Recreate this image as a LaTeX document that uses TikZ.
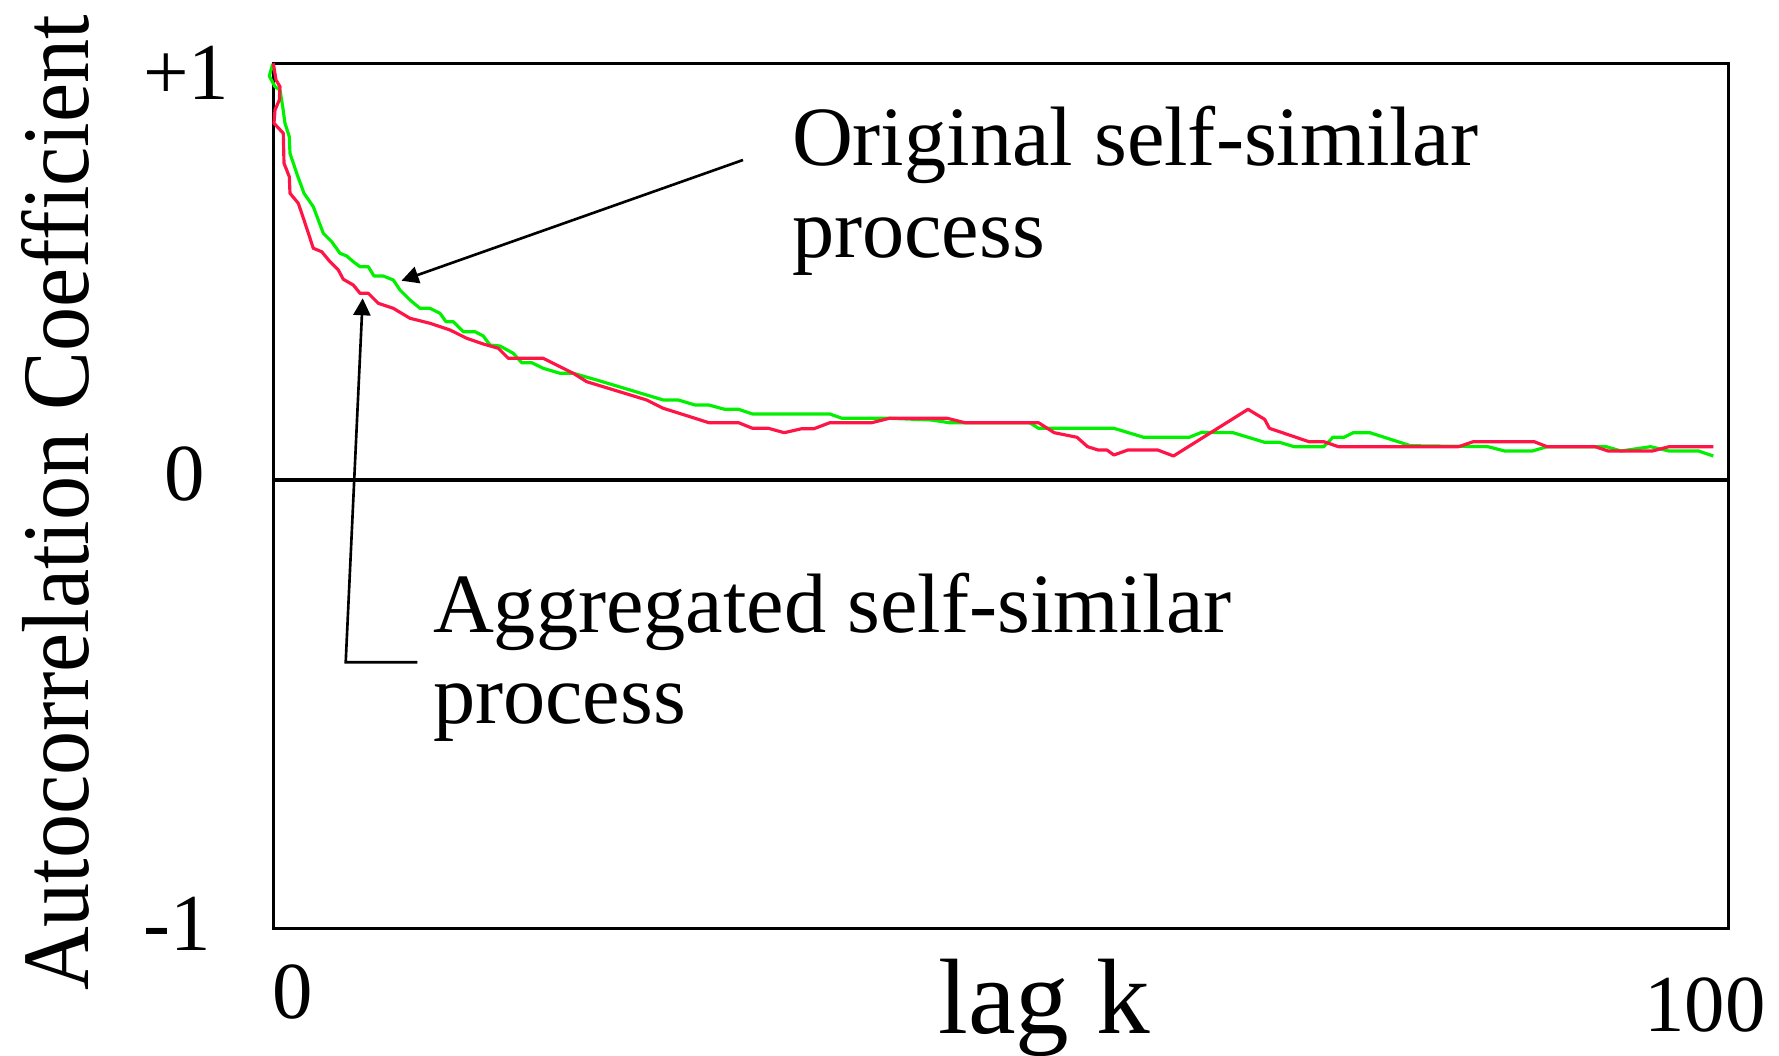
\documentclass[tikz,border=0pt]{standalone}
\usepackage{fontspec}
\setmainfont{Liberation Serif}
\usetikzlibrary{arrows.meta}
\definecolor{curvegreen}{RGB}{0,240,0}
\definecolor{curvered}{RGB}{255,20,70}
\tikzset{
  frame/.style={line width=1pt, black},
  curveline/.style={line width=0.9pt, line join=round},
  pointer/.style={line width=0.75pt, black, -{Triangle[length=1.7mm,width=1.7mm]}},
  lbl/.style={inner sep=0pt, outer sep=0pt, font=\fontsize{24}{26}\selectfont},
  ticklbl/.style={inner sep=0pt, outer sep=0pt, font=\fontsize{23}{26}\selectfont, anchor=base},
}
\begin{document}
\begin{tikzpicture}[x=0.1mm,y=-0.1mm]
\useasboundingbox (0,0) rectangle (1779,1056);
% frame
\coordinate (tl) at (273.5,63.5);
\coordinate (br) at (1728.5,928.5);
\draw[frame] (tl) rectangle (br);
\coordinate (z0) at (273.5,480);
\coordinate (z1) at (1728.5,480);
\draw[frame] (z0) -- (z1);
% green curve (original)
\draw[curveline, curvegreen] plot coordinates {
(272.7,64) (269.3,76) (275,86.7) (280,90) (282.7,106.7) (285,123.3) (289.3,136.7) (290,153.3) (296.7,173.3) (304,193.3) (313.3,206.7) (323.3,233.3) (331.7,241.7) (340,253.3) (346.7,256) (353.3,261.7) (360,266.7) (368.3,266.7) (374,276) (383.3,276) (393.3,280) (400,290) (410,300) (420,308.3) (430,308.3) (440,313.3) (446,321.7) (453.3,321.7) (463.3,331.7) (475,331.7) (483.3,336) (490,345) (500,346) (513.3,353.3) (521.7,362.7) (531.7,362.7) (543.3,368.3) (560,373.3) (573.3,373.3) (596.7,380) (630,390) (663.3,400) (678.3,400) (695,405) (708.8,405) (724.6,409.3) (738.6,409.3) (752.6,414) (829.8,414) (842,418.3) (889.4,418.3) (931.5,420) (949,422.7) (1029.7,422.7) (1038.5,428.3) (1113.9,428.3) (1143.7,437.3) (1189.3,437.3) (1201.6,432.3) (1233.1,432.7) (1264.6,442.3) (1279.4,442.3) (1294.2,446.7) (1323.7,446.7) (1332.9,437.3) (1344,437.3) (1353.2,432.7) (1369.9,432.7) (1410.5,445.7) (1488,446.7) (1504.7,451) (1532.3,451) (1547.1,446.7) (1606.2,446.7) (1621,451) (1650.5,446.7) (1669,451) (1698.5,451) (1713.3,456)
};
% red curve (aggregated)
\draw[curveline, curvered] plot coordinates {
(273.3,63.3) (276,80) (280,86.7) (279.3,100) (275,110) (274,123.3) (283.3,133.3) (284,163.3) (289.3,176.7) (290,193.3) (298.3,203.3) (304,220) (313.3,248.3) (321.7,251.7) (330,261.7) (338.3,270) (343.3,279.3) (353.3,285) (360,293.3) (368.3,293.3) (378.3,303.3) (393.3,308.3) (410,318.3) (430,323.3) (450,330) (466.7,338.3) (483.3,344) (498.3,348.3) (508.3,358.3) (543.3,358.3) (556.7,365) (573.3,373.3) (586.7,381.7) (646.7,400) (663.3,408.3) (690,416.7) (708.8,422.7) (738.6,422.7) (752.6,428.3) (768.4,428.3) (784.2,432.7) (801.7,428.7) (814,428.7) (829.8,422.7) (871.9,422.7) (889.4,418.3) (947.3,418.3) (964.8,422.7) (1038.5,422.7) (1054.2,432.7) (1077,437.3) (1087.6,446.7) (1098.1,450) (1106.9,450) (1113.9,455) (1127.9,450) (1157.7,450) (1173.5,456) (1248,409.3) (1264.6,419.3) (1269.4,428.3) (1308.9,441.7) (1323.7,441.7) (1338.5,446.7) (1458.5,446.7) (1473.3,441.7) (1534.2,441.7) (1547.1,446.7) (1595.1,446.7) (1608,451) (1652.4,451) (1669,446.7) (1713.3,446.7)
};
% axis labels
\node[inner sep=0pt, anchor=base, rotate=90, font=\fontsize{25.1}{28}\selectfont] (ylab) at (88.5,503) {\scalebox{1}[1.08]{Autocorrelation Coefficient}};
\node[ticklbl] (yp1) at (186,100) {+1};
\node[ticklbl] (y0) at (185,501) {0};
\node[ticklbl] (ym1) at (177,950) {-1};
\node[ticklbl] (x0) at (292.5,1018) {0};
\node[ticklbl] (x100) at (1705,1031.7) {100};
\node[inner sep=0pt, anchor=base, font=\fontsize{30.5}{33}\selectfont] (xlab) at (1044,1033) {lag k};
% curve labels
\node[lbl, anchor=base west] (orig1) at (792,166) {Original self-similar};
\node[lbl, anchor=base west] (orig2) at (792,257.6) {process};
\node[lbl, anchor=base west] (aggr1) at (433,633) {Aggregated self-similar};
\node[lbl, anchor=base west] (aggr2) at (433,723) {process};
% pointers
\coordinate (ostart) at (743,160);
\coordinate (otip) at (401.5,280.7);
\draw[pointer] (ostart) -- (otip);
\coordinate (aend) at (417.3,662.3);
\coordinate (acorner) at (345.7,662.3);
\coordinate (atip) at (362.7,298.3);
\draw[pointer] (aend) -- (acorner) -- (atip);
\end{tikzpicture}
\end{document}
